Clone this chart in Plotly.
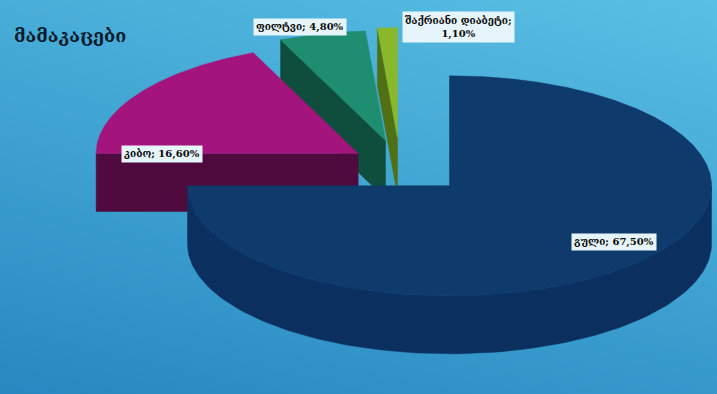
import numpy as np
import plotly.graph_objects as go

# Men: share by category (percent)
title_text = "მამაკაცები"
categories = ["გული", "კიბო", "ფილტვი", "შაქრიანი დიაბეტი"]
values = [67.5, 16.6, 4.8, 1.1]

top_colors = ["#0e3a6c", "#a3147c", "#1f8e70", "#8ab82c"]
side_colors = ["#0b3060", "#4f0a3e", "#0f4e3c", "#4f7014"]
explode = [70, 50, 60, 65]

W, H = 717, 394
CX, CY = 400, 165          # pie centre in pixel space
RX, RY = 262, 110          # ellipse radii of the top surface
DEPTH = 58                 # thickness of the pie

fig = go.Figure()

# gradient backdrop
fig.add_trace(go.Heatmap(
    x=[0, W], y=[0, H], z=[[0.35, 0.05], [0.95, 0.7]],
    zsmooth="best", showscale=False, hoverinfo="skip",
    colorscale=[[0, "#5cc3e6"], [1, "#2585bf"]], zmin=0, zmax=1,
))

total = sum(values)
bounds = np.concatenate([[0], np.cumsum(values) / total * 2 * np.pi])


def pt(ax, ay, th, dz=0.0):
    return ax + RX * np.sin(th), ay - RY * np.cos(th) + dz


def poly(xs, ys, color):
    fig.add_trace(go.Scatter(
        x=list(xs) + [xs[0]], y=list(ys) + [ys[0]], mode="lines",
        fill="toself", fillcolor=color, line=dict(color=color, width=0.5),
        hoverinfo="skip", showlegend=False,
    ))


slices = []
for i, v in enumerate(values):
    t0, t1 = bounds[i], bounds[i + 1]
    mid = (t0 + t1) / 2
    e = explode[i]
    ax = CX + e * np.sin(mid)
    ay = CY - e * np.cos(mid) * RY / RX
    slices.append((ay, i, t0, t1, ax))

# paint back to front
for ay, i, t0, t1, ax in sorted(slices):
    # cut faces
    for th, vis in ((t0, np.sin(t0) < -1e-6), (t1, np.sin(t1) > 1e-6)):
        if vis:
            ex, ey = pt(ax, ay, th)
            poly([ax, ex, ex, ax], [ay, ey, ey + DEPTH, ay + DEPTH], side_colors[i])
    # outer wall (front half only)
    a, b = max(t0, np.pi / 2), min(t1, 3 * np.pi / 2)
    if b > a:
        th = np.linspace(a, b, 120)
        xs, ys = pt(ax, ay, th)
        poly(np.concatenate([xs, xs[::-1]]),
             np.concatenate([ys, ys[::-1] + DEPTH]), side_colors[i])
    # top surface
    th = np.linspace(t0, t1, max(8, int(200 * (t1 - t0))))
    xs, ys = pt(ax, ay, th)
    poly(np.concatenate([[ax], xs]), np.concatenate([[ay], ys]), top_colors[i])


def fmt(v):
    return f"{v:.2f}%".replace(".", ",")


label_pos = [(614, 242), (162, 154), (300, 27), (458, 27)]
label_text = [
    f"{categories[0]}; {fmt(values[0])}",
    f"{categories[1]}; {fmt(values[1])}",
    f"{categories[2]}; {fmt(values[2])}",
    f"{categories[3]};<br>{fmt(values[3])}",
]
for (lx, ly), txt in zip(label_pos, label_text):
    fig.add_annotation(
        x=lx, y=ly, text=f"<b>{txt}</b>", showarrow=False,
        font=dict(family="DejaVu Serif, DejaVu Sans", size=10, color="#0a0a0a"),
        bgcolor="#e6f5fb", borderpad=2, align="center",
    )

fig.add_annotation(
    x=12, y=35, xanchor="left", text=f"<b>{title_text}</b>", showarrow=False,
    font=dict(family="DejaVu Serif, DejaVu Sans", size=18, color="#0a1a2c"),
)

fig.update_xaxes(range=[0, W], visible=False, fixedrange=True)
fig.update_yaxes(range=[H, 0], visible=False, fixedrange=True)
fig.update_layout(
    width=W, height=H, margin=dict(l=0, r=0, t=0, b=0),
    paper_bgcolor="#3fa5d5", plot_bgcolor="#3fa5d5", showlegend=False,
)

fig.write_html("out.html")
